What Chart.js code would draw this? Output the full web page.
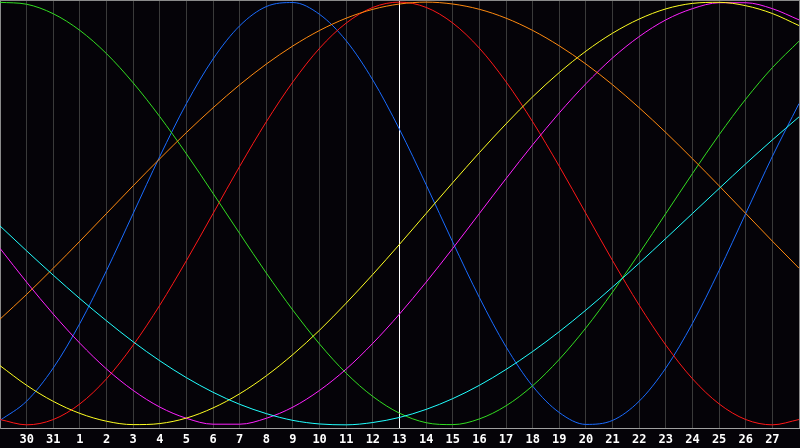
<!DOCTYPE html>
<html>
<head>
<meta charset="utf-8">
<script src="https://cdn.jsdelivr.net/npm/chart.js@4"></script>
<style>
  html, body { margin: 0; padding: 0; background: #050308; }
  #wrap { width: 800px; height: 448px; }
</style>
</head>
<body>
<div id="wrap"><canvas id="bioChart" width="800" height="448"></canvas></div>
<script>
// day of month under each grid line (first and last column are the frame)
const days = ['', '30', '31', '1', '2', '3', '4', '5', '6', '7', '8', '9', '10', '11', '12',
  '13', '14', '15', '16', '17', '18', '19', '20', '21', '22', '23', '24', '25', '26', '27', ''];

// cycle values in percent, one per day
const physical     = [-97.9, -88.8, -73.1, -52.0, -27.0, 0, 27.0, 52.0, 73.1, 88.8, 97.9, 99.8, 94.2, 81.7, 63.1, 39.8,
  13.6, -13.6, -39.8, -63.1, -81.7, -94.2, -99.8, -97.9, -88.8, -73.1, -52.0, -27.0, 0, 27.0, 52.0];
const emotional    = [-97.5, -100, -97.5, -90.1, -78.2, -62.3, -43.4, -22.3, 0, 22.3, 43.4, 62.3, 78.2, 90.1, 97.5, 100,
  97.5, 90.1, 78.2, 62.3, 43.4, 22.3, 0, -22.3, -43.4, -62.3, -78.2, -90.1, -97.5, -100, -97.5];
const intellectual = [99.9, 99.0, 94.5, 86.6, 75.6, 61.8, 45.8, 28.2, 9.5, -9.5, -28.2, -45.8, -61.8, -75.6, -86.6, -94.5,
  -99.0, -99.9, -97.2, -91.0, -81.5, -69.0, -54.1, -37.2, -18.9, 0, 18.9, 37.2, 54.1, 69.0, 81.5];
const intuitive    = [-16.5, -32.5, -47.6, -61.4, -73.6, -83.7, -91.6, -96.9, -99.7, -99.7, -96.9, -91.6, -83.7, -73.6, -61.4, -47.6,
  -32.5, -16.5, 0, 16.5, 32.5, 47.6, 61.4, 73.6, 83.7, 91.6, 96.9, 99.7, 99.7, 96.9, 91.6];
const aesthetic    = [-72.0, -81.3, -88.9, -94.6, -98.3, -99.9, -99.4, -96.8, -92.0, -85.3, -76.8, -66.7, -55.2, -42.4, -28.8, -14.6,
  0, 14.6, 28.8, 42.4, 55.2, 66.7, 76.8, 85.3, 92.0, 96.8, 99.4, 99.9, 98.3, 94.6, 88.9];
const awareness    = [-50.0, -38.3, -25.9, -13.1, 0, 13.1, 25.9, 38.3, 50.0, 60.9, 70.7, 79.3, 86.6, 92.4, 96.6, 99.1,
  100, 99.1, 96.6, 92.4, 86.6, 79.3, 70.7, 60.9, 50.0, 38.3, 25.9, 13.1, 0, -13.1, -25.9];
const spiritual    = [-5.9, -17.7, -29.2, -40.3, -50.8, -60.7, -69.7, -77.7, -84.6, -90.3, -94.7, -97.9, -99.6, -100.0, -98.9, -96.5,
  -92.7, -87.6, -81.3, -73.8, -65.3, -55.9, -45.7, -34.8, -23.5, -11.8, 0, 11.8, 23.5, 34.8, 45.7];

const todayIndex = 15;
const yMin = -101.5, yMax = 101;

function curve(values, color) {
  return {
    data: values,
    borderColor: color,
    borderWidth: 1,
    pointRadius: 0,
    cubicInterpolationMode: 'monotone',
    fill: false
  };
}

var ctx = document.getElementById('bioChart').getContext('2d');
new Chart(ctx, {
  type: 'line',
  data: {
    labels: days,
    datasets: [
      curve(spiritual, '#22ffff'),
      curve(awareness, '#ff8a10'),
      curve(aesthetic, '#ffff22'),
      curve(intuitive, '#ff22ff'),
      curve(intellectual, '#33dd22'),
      curve(emotional, '#ff1818'),
      curve(physical, '#1a6cff')
    ]
  },
  options: {
    responsive: false,
    animation: false,
    layout: { padding: { left: 0, right: 1, top: 0, bottom: 0 } },
    plugins: {
      legend: { display: false },
      tooltip: { enabled: false }
    },
    scales: {
      x: {
        offset: false,
        grid: {
          drawTicks: false,
          lineWidth: 1,
          color: function(c) {
            if (c.index === todayIndex) return '#ffffff';
            if (c.index === 0 || c.index === days.length - 1) return '#8a8a8a';
            return '#3a3a3a';
          }
        },
        border: { display: true, color: '#a0a0a0', width: 1 },
        ticks: {
          autoSkip: false,
          maxRotation: 0,
          padding: 5,
          color: '#ffffff',
          font: { family: 'DejaVu Sans Mono', size: 12, weight: 'bold' }
        },
        afterFit: function(scale) {
          scale.height = 20;
          scale.paddingLeft = 0;
          scale.paddingRight = 0;
        }
      },
      y: {
        min: yMin,
        max: yMax,
        grid: {
          drawTicks: false,
          lineWidth: 1,
          color: function(c) {
            if (c.tick.value === 0) return '#ffffff';
            if (c.tick.value === yMax) return '#8a8a8a';
            return 'rgba(0,0,0,0)';
          }
        },
        border: { display: true, color: '#8a8a8a', width: 1 },
        ticks: { display: false, stepSize: 50 },
        afterFit: function(scale) { scale.width = 0; }
      }
    }
  }
});
</script>
</body>
</html>
